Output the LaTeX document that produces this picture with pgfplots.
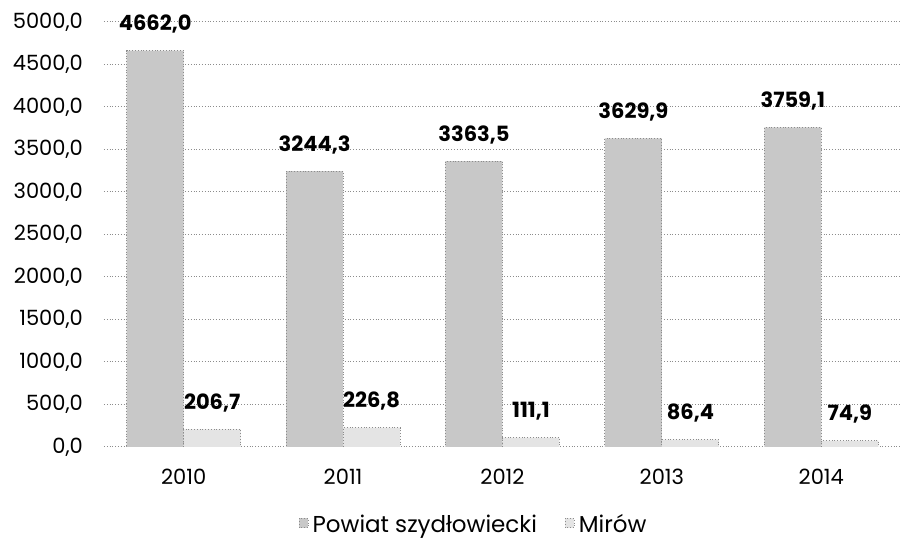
\documentclass[border=0pt]{standalone}
\usepackage{fontspec}
\setmainfont{Poppins}
\usepackage{pgfplots}
\pgfplotsset{compat=1.18}
\definecolor{powiatGray}{HTML}{C8C8C8}
\definecolor{mirowGray}{HTML}{E4E4E4}
\definecolor{gridGray}{HTML}{8C8C8C}

\begin{document}
\begin{tikzpicture}
  \begin{axis}[
    ybar=0pt,
    width=398.5pt,
    height=212.5pt,
    scale only axis,
    xmin=-0.5, xmax=4.5,
    ymin=0, ymax=5000,
    xtick={0,1,2,3,4},
    xticklabels={2010,2011,2012,2013,2014},
    ytick={0,500,1000,1500,2000,2500,3000,3500,4000,4500,5000},
    /pgf/number format/.cd, fixed, fixed zerofill, precision=1, use comma, 1000 sep={}, assume math mode=true,
    /pgfplots/.cd,
    tick label style={font=\fontsize{10.5}{12}\selectfont},
    yticklabel style={xshift=-7pt},
    xticklabel style={yshift=-7.5pt},
    major tick length=0pt,
    axis line style={draw=none},
    ymajorgrids,
    grid style={draw=gridGray, densely dotted, line width=0.5pt},
    bar width=28.5pt,
    nodes near coords,
    nodes near coords style={font=\fontsize{10.5}{12}\selectfont\bfseries, black, yshift=5pt},
    legend style={at={(0.465,-0.183)}, anchor=center, draw=none, legend columns=2,
      font=\fontsize{11.5}{13}\selectfont,
      /tikz/every even column/.append style={column sep=12pt}},
    legend image code/.code={\draw[#1, draw=gridGray, densely dotted] (0cm,-0.05cm) rectangle (0.16cm,0.11cm);},
  ]
    \addplot[fill=powiatGray, draw=gridGray, densely dotted] coordinates {
      (0,4662.0) (1,3244.3) (2,3363.5) (3,3629.9) (4,3759.1)
    };
    \addplot[fill=mirowGray, draw=gridGray, densely dotted] coordinates {
      (0,206.7) (1,226.8) (2,111.1) (3,86.4) (4,74.9)
    };
    \legend{Powiat szydłowiecki, Mirów}
  \end{axis}
  \pgfresetboundingbox
  \path ([xshift=-52pt,yshift=-47.5pt]current axis.south west) rectangle ([yshift=11pt]current axis.north east);
\end{tikzpicture}
\end{document}
